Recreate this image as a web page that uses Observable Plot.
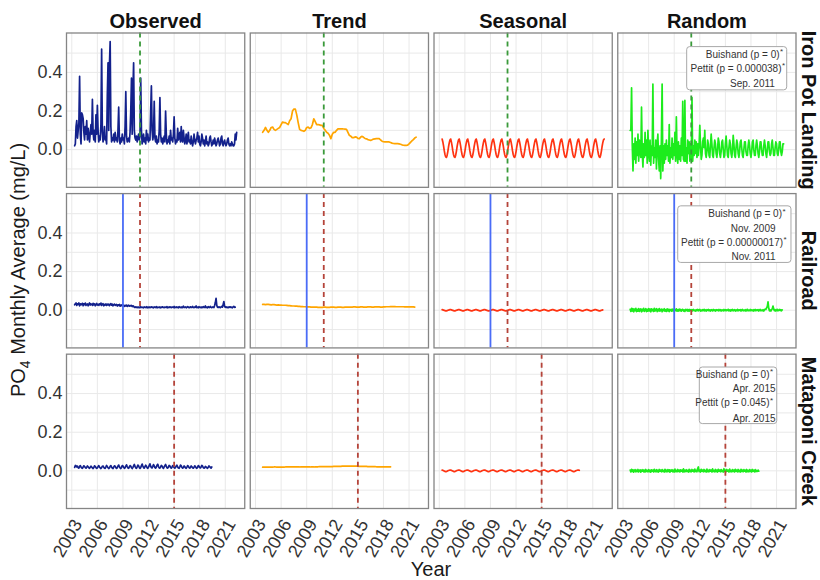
<!DOCTYPE html>
<html><head><meta charset="utf-8">
<script src="https://cdn.jsdelivr.net/npm/d3@7"></script>
<script src="https://cdn.jsdelivr.net/npm/@observablehq/plot@0.6"></script>
<style>body{margin:0;background:#fff}</style>
</head><body><div id="chart"></div>
<script>
const FONT = "'Liberation Sans', Arial, Helvetica, sans-serif";
const sites = ["Iron Pot Landing", "Railroad", "Mataponi Creek"];
const components = ["Observed", "Trend", "Seasonal", "Random"];
const xTicks = [2003, 2006, 2009, 2012, 2015, 2018, 2021];
const yTicks = [0, 0.2, 0.4];
const yGrid = [-0.1, 0, 0.1, 0.2, 0.3, 0.4, 0.5];
const firstMonth = 2003 + 4 / 12; // first monthly sample

// ---- Iron Pot Landing (monthly) ----
const ironObserved = [
.02,.03,.12,.15,.06,.10,.14,.38,.08,.03,.19,.18,
.16,.09,.05,.12,.08,.15,.05,.11,.07,.04,.09,.13,
.08,.26,.09,.05,.10,.04,.18,.08,.23,.10,.04,.07,
.05,.13,.52,.09,.04,.07,.12,.05,.06,.03,.28,.45,
.10,.44,.56,.12,.04,.06,.05,.08,.04,.09,.05,.06,
.04,.10,.22,.05,.03,.06,.04,.08,.05,.06,.03,.12,
.30,.07,.04,.05,.06,.04,.09,.20,.37,.08,.30,.45,
.10,.06,.05,.07,.04,.06,.08,.05,.07,.37,.10,.03,
.05,.08,.04,.06,.03,.10,.05,.08,.04,.06,.05,.20,
.33,.10,.05,.08,.25,.06,.04,.07,.03,.05,.04,.10,
.27,.08,.04,.06,.03,.05,.07,.04,.20,.08,.03,.05,
.04,.07,.03,.10,.05,.06,.04,.08,.17,.06,.03,.05,
.04,.11,.05,.06,.09,.04,.12,.05,.04,.10,.06,.03,
.05,.08,.03,.06,.09,.04,.05,.03,.07,.04,.02,.04,
.08,.05,.03,.05,.06,.09,.04,.07,.03,.02,.04,.08,
.06,.03,.05,.02,.04,.07,.03,.04,.02,.03,.06,.07,
.04,.02,.03,.05,.03,.06,.04,.02,.03,.05,.06,.04,
.02,.03,.06,.07,.03,.02,.04,.05,.03,.02,.03,.05,
.06,.03,.02,.03,.02,.04,.03,.02,.02,.03,.08,.05,
.09];
// every second month, starting at month 6
const ironTrend = [
.09,.10,.115,.10,.09,.10,.115,.117,.105,.10,.105,.11,
.115,.13,.143,.14,.14,.135,.13,.15,.16,.20,.21,.21,
.18,.14,.105,.10,.098,.095,.10,.115,.117,.11,.113,.13,
.16,.145,.13,.13,.128,.126,.126,.11,.10,.09,.085,.075,
.057,.08,.09,.09,.10,.108,.108,.108,.108,.107,.106,.105,
.09,.074,.07,.062,.062,.066,.065,.058,.057,.065,.069,.064,
.058,.056,.052,.05,.048,.051,.055,.056,.057,.057,.057,.05,
.044,.041,.04,.04,.04,.04,.037,.034,.032,.031,.031,.031,
.03,.028,.025,.023,.022,.022,.023,.03,.038,.045,.052,.06,
.065];
const ironSeasonal = [
.055,.04,.02,-.005,-.025,-.037,-.04,-.03,-.01,.015,.035,.05,
.055,.04,.02,-.005,-.025,-.037,-.04,-.03,-.01,.015,.035,.05,
.055,.04,.02,-.005,-.025,-.037,-.04,-.03,-.01,.015,.035,.05,
.055,.04,.02,-.005,-.025,-.037,-.04,-.03,-.01,.015,.035,.05,
.055,.04,.02,-.005,-.025,-.037,-.04,-.03,-.01,.015,.035,.05,
.055,.04,.02,-.005,-.025,-.037,-.04,-.03,-.01,.015,.035,.05,
.055,.04,.02,-.005,-.025,-.037,-.04,-.03,-.01,.015,.035,.05,
.055,.04,.02,-.005,-.025,-.037,-.04,-.03,-.01,.015,.035,.05,
.055,.04,.02,-.005,-.025,-.037,-.04,-.03,-.01,.015,.035,.05,
.055,.04,.02,-.005,-.025,-.037,-.04,-.03,-.01,.015,.035,.05,
.055,.04,.02,-.005,-.025,-.037,-.04,-.03,-.01,.015,.035,.05,
.055,.04,.02,-.005,-.025,-.037,-.04,-.03,-.01,.015,.035,.05,
.055,.04,.02,-.005,-.025,-.037,-.04,-.03,-.01,.015,.035,.05,
.055,.04,.02,-.005,-.025,-.037,-.04,-.03,-.01,.015,.035,.05,
.055,.04,.02,-.005,-.025,-.037,-.04,-.03,-.01,.015,.035,.05,
.055,.04,.02,-.005,-.025,-.037,-.04,-.03,-.01,.015,.035,.05,
.055,.04,.02,-.005,-.025,-.037,-.04,-.03,-.01,.015,.035,.05,
.055,.04,.02,-.005,-.025,-.037,-.04,-.03,-.01,.015,.035,.05,
.055,.04,.02,-.005,-.025,-.037,-.04,-.03,-.01,.015,.035,.05,
.055];
// monthly, starting at month 6
const ironRandom = [
.10,.10,.32,.02,-.11,.03,-.05,.06,-.07,.04,-.03,.08,
-.06,.05,.00,-.04,.22,-.02,-.09,.03,-.04,.09,-.03,.05,
-.07,.10,-.02,-.06,.05,-.08,.02,-.03,.34,-.07,.01,-.04,
.05,-.10,.03,.08,-.05,-.11,.02,-.15,.06,.34,-.11,.02,
-.07,.03,-.05,.05,-.03,.02,-.06,.13,-.07,.01,-.04,.06,
-.05,.03,-.03,.09,-.06,.17,-.02,-.07,.04,-.05,.02,-.06,
.06,-.03,.25,-.05,-.06,.255,-.06,.01,-.07,.05,-.02,.04,
-.06,.03,-.05,.27,-.06,.02,-.03,.05,-.02,.04,-.04,.03,
-.03,.02,.126,.02,-.05,-.03,.04,.06,.01,.10,-.02,-.04,
-.01,.05,.03,-.03,-.04,.02,.08,.03,-.03,-.04,.01,.05,
.03,-.02,-.04,.00,.06,.04,-.02,-.04,-.01,.04,.05,.00,
-.04,-.03,.03,.07,.02,-.03,-.04,.01,.05,.03,-.02,-.04,
.00,.074,.03,-.03,-.04,.01,.05,.03,-.02,-.04,-.01,.04,
.05,.01,-.03,-.04,.00,.04,.04,-.01,-.03,-.03,.02,.05,
.02,-.02,-.04,-.01,.04,.05,.00,-.03,-.03,.02,.05,.02,
-.02,-.04,-.01,.04,.04,.00,-.03,-.03,.02,.05,.02,-.02,
-.04,.00,.04,.04,-.01,-.03,-.02,.03,.05,.01,-.03,-.03,
.01,.04,.03,-.02,-.03,.00,.04,.04,-.01,-.03,-.01,.03,
.03];

// ---- Railroad ----
const railObserved = [
.028,.033,.038,.025,.033,.03,.038,.023,.033,.028,.031,.036,
.023,.033,.029,.037,.025,.031,.033,.023,.03,.038,.027,.033,
.031,.025,.036,.028,.033,.023,.03,.035,.027,.031,.025,.033,
.029,.037,.025,.031,.034,.023,.03,.027,.033,.025,.031,.028,
.032,.024,.03,.034,.026,.031,.023,.029,.032,.025,.028,.03,
.022,.028,.025,.03,.021,.027,.024,.029,.022,.026,.02,.025,
.023,.027,.02,.024,.026,.021,.024,.022,.025,.019,.023,.021,
.016,.014,.018,.015,.013,.017,.014,.016,.013,.018,.015,.014,
.016,.013,.017,.015,.014,.018,.013,.016,.014,.017,.013,.015,
.018,.014,.016,.013,.017,.015,.014,.019,.013,.016,.015,.014,
.017,.013,.016,.015,.018,.014,.013,.017,.015,.014,.019,.013,
.016,.014,.018,.015,.013,.017,.016,.014,.02,.013,.015,.017,
.014,.016,.013,.018,.015,.014,.017,.013,.016,.021,.014,.015,
.017,.013,.016,.019,.014,.015,.013,.018,.016,.014,.02,.015,
.013,.017,.015,.022,.014,.016,.013,.018,.015,.014,.017,.013,
.016,.019,.014,.015,.022,.014,.016,.013,.018,.015,.014,.02,
.015,.013,.017,.016,.014,.025,.04,.062,.025,.016,.014,.018,
.015,.013,.017,.02,.016,.03,.045,.02,.015,.018,.014,.016,
.013,.017,.015,.018,.014,.016,.013,.017,.02,.015,.016];
const railTrend = [
.03,.03,.029,.03,.03,.029,.028,.029,.029,.028,.027,.028,
.027,.027,.026,.026,.026,.025,.024,.024,.023,.022,.022,.021,
.021,.02,.02,.019,.019,.018,.018,.017,.017,.017,.016,.016,
.016,.016,.016,.015,.015,.015,.015,.016,.016,.015,.015,.015,
.016,.016,.016,.015,.015,.016,.016,.016,.015,.015,.016,.016,
.016,.016,.016,.016,.017,.017,.016,.016,.016,.017,.017,.016,
.016,.016,.017,.017,.017,.016,.016,.017,.017,.017,.017,.016,
.016,.017,.017,.018,.018,.018,.019,.019,.019,.019,.018,.018,
.018,.018,.018,.018,.017,.017,.017,.017,.017,.017,.017,.016];
const railSeasonal = [
.003,.002,.001,-.001,-.002,-.003,-.003,-.002,0,.001,.002,.003,
.003,.002,.001,-.001,-.002,-.003,-.003,-.002,0,.001,.002,.003,
.003,.002,.001,-.001,-.002,-.003,-.003,-.002,0,.001,.002,.003,
.003,.002,.001,-.001,-.002,-.003,-.003,-.002,0,.001,.002,.003,
.003,.002,.001,-.001,-.002,-.003,-.003,-.002,0,.001,.002,.003,
.003,.002,.001,-.001,-.002,-.003,-.003,-.002,0,.001,.002,.003,
.003,.002,.001,-.001,-.002,-.003,-.003,-.002,0,.001,.002,.003,
.003,.002,.001,-.001,-.002,-.003,-.003,-.002,0,.001,.002,.003,
.003,.002,.001,-.001,-.002,-.003,-.003,-.002,0,.001,.002,.003,
.003,.002,.001,-.001,-.002,-.003,-.003,-.002,0,.001,.002,.003,
.003,.002,.001,-.001,-.002,-.003,-.003,-.002,0,.001,.002,.003,
.003,.002,.001,-.001,-.002,-.003,-.003,-.002,0,.001,.002,.003,
.003,.002,.001,-.001,-.002,-.003,-.003,-.002,0,.001,.002,.003,
.003,.002,.001,-.001,-.002,-.003,-.003,-.002,0,.001,.002,.003,
.003,.002,.001,-.001,-.002,-.003,-.003,-.002,0,.001,.002,.003,
.003,.002,.001,-.001,-.002,-.003,-.003,-.002,0,.001,.002,.003,
.003,.002,.001,-.001,-.002,-.003,-.003,-.002,0,.001,.002,.003,
.003,.002,.001,-.001,-.002,-.003,-.003,-.002,0,.001,.002,.003,
.003,.002,.001,-.001,-.002,-.003,-.003,-.002,0,.001,.002];
const railRandom = [
.005,-.006,.01,-.004,.008,-.008,.006,-.002,.01,-.007,.004,-.005,
.009,-.006,.003,.007,-.008,.005,-.003,.01,-.006,.002,.008,-.007,
.004,-.005,.009,-.003,.006,-.008,.007,-.002,.005,-.006,.01,-.004,
.003,.008,-.007,.005,-.003,.009,-.005,.002,.006,-.008,.004,-.002,
.008,-.005,.003,-.006,.007,-.003,.005,-.007,.004,.002,-.005,.006,
-.003,.005,-.006,.004,-.002,.007,-.005,.003,-.004,.006,-.002,.004,
-.005,.003,.005,-.004,.002,-.006,.004,-.002,.005,-.004,.003,-.005,
.004,-.002,.003,-.005,.002,.004,-.003,.001,-.004,.003,-.002,.004,
-.003,.002,.004,-.004,.001,-.003,.003,-.002,.005,-.003,.002,-.004,
.003,-.001,.004,-.003,.002,-.004,.003,.001,-.003,.004,-.002,.002,
-.004,.003,-.001,.002,-.003,.004,-.002,.003,-.004,.002,.001,-.003,
.004,-.002,.003,-.003,.002,-.001,.005,-.003,.002,-.004,.003,-.002,
.004,-.003,.001,.003,-.004,.002,-.002,.005,-.003,.002,-.001,.003,
-.004,.002,.004,-.003,.001,-.002,.003,-.004,.002,.005,-.003,.001,
-.002,.004,-.003,.002,.001,-.004,.003,-.002,.004,-.003,.002,-.001,
.003,-.004,.002,.004,-.003,.001,-.002,.003,-.004,.002,.006,.004,
.012,.02,.043,.01,-.003,.002,-.004,.003,.008,.022,.006,-.002,
.003,-.004,.002,.005,-.003,.001,.004,-.002,.003,-.003,.002];

// ---- Mataponi Creek ----
const matObserved = [
.018,.028,.026,.02,.024,.016,.014,.022,.027,.02,.015,.013,
.02,.026,.022,.017,.014,.019,.025,.021,.016,.013,.018,.024,
.02,.015,.012,.017,.026,.023,.017,.013,.015,.022,.027,.02,
.015,.012,.016,.024,.025,.019,.014,.013,.02,.028,.022,.016,
.012,.015,.023,.027,.02,.014,.012,.019,.026,.024,.017,.013,
.016,.025,.03,.021,.015,.012,.018,.027,.025,.018,.013,.016,
.024,.031,.022,.015,.013,.02,.027,.024,.016,.012,.018,.026,
.033,.023,.016,.013,.021,.03,.026,.017,.013,.017,.027,.035,
.025,.016,.014,.022,.029,.024,.016,.013,.019,.028,.036,.024,
.016,.015,.023,.032,.025,.017,.014,.02,.03,.034,.022,.015,
.014,.021,.028,.024,.017,.013,.02,.027,.033,.023,.016,.014,
.02,.028,.025,.018,.014,.019,.027,.023,.017,.014,.018,.026,
.029,.02,.015,.013,.021,.03,.026,.018,.014,.017,.025,.022,
.016,.013,.019,.027,.024,.017,.014,.018,.025,.021,.016,.014,
.019,.026,.022,.016,.013,.018,.027,.024,.017,.015,.02,.028,
.024,.017,.014,.016,.023,.02,.016,.013,.018,.025,.022,.017,
.014,.02];
const matTrend = [
.019,.019,.019,.019,.019,.019,.019,.019,.02,.02,.019,.019,
.019,.019,.019,.019,.02,.02,.02,.02,.02,.02,.02,.02,
.02,.02,.02,.021,.021,.021,.021,.021,.021,.021,.02,.02,
.02,.021,.021,.021,.022,.022,.022,.022,.022,.022,.022,.022,
.022,.022,.023,.023,.023,.023,.023,.023,.024,.024,.024,.024,
.024,.024,.024,.024,.024,.024,.024,.024,.023,.023,.023,.023,
.023,.023,.022,.022,.022,.022,.022,.022,.021,.021,.021,.021,
.021,.021,.021,.021,.021,.021,.021];
const matSeasonal = [
.004,.003,.001,-.001,-.003,-.004,-.004,-.002,0,.002,.003,.004,
.004,.003,.001,-.001,-.003,-.004,-.004,-.002,0,.002,.003,.004,
.004,.003,.001,-.001,-.003,-.004,-.004,-.002,0,.002,.003,.004,
.004,.003,.001,-.001,-.003,-.004,-.004,-.002,0,.002,.003,.004,
.004,.003,.001,-.001,-.003,-.004,-.004,-.002,0,.002,.003,.004,
.004,.003,.001,-.001,-.003,-.004,-.004,-.002,0,.002,.003,.004,
.004,.003,.001,-.001,-.003,-.004,-.004,-.002,0,.002,.003,.004,
.004,.003,.001,-.001,-.003,-.004,-.004,-.002,0,.002,.003,.004,
.004,.003,.001,-.001,-.003,-.004,-.004,-.002,0,.002,.003,.004,
.004,.003,.001,-.001,-.003,-.004,-.004,-.002,0,.002,.003,.004,
.004,.003,.001,-.001,-.003,-.004,-.004,-.002,0,.002,.003,.004,
.004,.003,.001,-.001,-.003,-.004,-.004,-.002,0,.002,.003,.004,
.004,.003,.001,-.001,-.003,-.004,-.004,-.002,0,.002,.003,.004,
.004,.003,.001,-.001,-.003,-.004,-.004,-.002,0,.002,.003,.004,
.004,.003,.001,-.001,-.003,-.004,-.004,-.002,0,.002,.003,.004,
.004,.003,.001,-.001,-.003,-.004,-.004,-.002,0,.002,.003,.004,
.004,.003];
const matRandom = [
.004,-.006,.008,-.003,.005,-.007,.002,.006,-.005,.003,-.004,.007,
-.006,.002,.005,-.007,.004,-.002,.006,-.005,.003,-.006,.007,-.003,
.002,-.005,.006,-.004,.003,-.007,.005,-.002,.004,-.006,.008,-.003,
-.004,.006,-.005,.003,-.006,.007,-.002,.004,-.005,.006,-.003,.002,
-.006,.008,-.004,.003,-.005,.006,-.003,.005,-.007,.004,-.002,.006,
-.005,.003,-.006,.009,-.004,.002,-.005,.007,-.003,.004,-.006,.005,
-.002,.004,-.006,.01,-.005,.003,-.004,.006,-.003,.002,-.006,.008,
-.004,.003,-.005,.007,-.002,.004,-.006,.009,-.003,.002,-.005,.012,
.02,-.004,.003,-.006,.008,-.002,.004,-.005,.007,-.003,.002,-.006,
.009,-.004,.003,-.005,.006,-.002,.004,-.006,.01,-.003,.002,-.005,
.007,-.004,.003,-.006,.008,-.002,.004,-.005,.006,-.003,.002,-.006,
.011,-.003,.004,-.005,.007,-.002,.003,-.006,.009,-.004,.002,-.005,
.006,-.003,.004,-.006,.008,-.002,.003,-.005,.007,-.004,.002,-.006,
.008,-.003,.004,-.005,.006,-.002,.003,-.006,.007,-.004,.002,-.005,
.006,-.003,.004,-.006,.007,-.002,.003,-.005,.006,-.004,.002,-.003,
.004,-.002];

// change points (decimal year) per site
const changeSites = ["Iron Pot Landing", "Railroad", "Railroad", "Mataponi Creek"];
const changeYears = [2011, 2009, 2011, 2015];
const changeTests = ["agree", "Buishand", "Pettit", "Pettit"];

// test result text per site
const legendSites = ["Iron Pot Landing","Iron Pot Landing","Iron Pot Landing",
  "Railroad","Railroad","Railroad","Railroad",
  "Mataponi Creek","Mataponi Creek","Mataponi Creek","Mataponi Creek"];
const legendLabels = ["Buishand (p = 0)","Pettit (p = 0.000038)","Sep. 2011",
  "Buishand (p = 0)","Nov. 2009","Pettit (p = 0.00000017)","Nov. 2011",
  "Buishand (p = 0)","Apr. 2015","Pettit (p = 0.045)","Apr. 2015"];
const legendStars = [true,true,false, true,false,true,false, true,false,true,false];

// ---------- assembly ----------
const seriesTable = [
  ["Iron Pot Landing","Observed",0,1,ironObserved],
  ["Iron Pot Landing","Trend",6,2,ironTrend],
  ["Iron Pot Landing","Seasonal",0,1,ironSeasonal],
  ["Iron Pot Landing","Random",6,1,ironRandom],
  ["Railroad","Observed",0,1,railObserved],
  ["Railroad","Trend",6,2,railTrend],
  ["Railroad","Seasonal",0,1,railSeasonal],
  ["Railroad","Random",6,1,railRandom],
  ["Mataponi Creek","Observed",0,1,matObserved],
  ["Mataponi Creek","Trend",6,2,matTrend],
  ["Mataponi Creek","Seasonal",0,1,matSeasonal],
  ["Mataponi Creek","Random",6,1,matRandom]
];
const rows = seriesTable.flatMap(([site, comp, start, step, vals]) =>
  vals.map((v, k) => ({site, comp, year: firstMonth + (start + k * step) / 12, value: v})));
const changes = changeYears.map((year, i) => ({site: changeSites[i], year, test: changeTests[i]}));

// annotation layout (legend box placement, in scale units)
const legendLayout = {
  "Iron Pot Landing": {box: [2010.52, 2022.25, 0.307, 0.531], right: [2021.35, 2021.58, 2020.80], y: [0.493, 0.419, 0.341]},
  "Railroad": {box: [2009.47, 2022.75, 0.245, 0.538], right: [2021.64, 2020.88, 2021.76, 2020.88], y: [0.497, 0.423, 0.349, 0.276]},
  "Mataponi Creek": {box: [2012.0, 2021.08, 0.242, 0.535], right: [2020.17, 2020.88, 2020.17, 2020.88], y: [0.497, 0.423, 0.351, 0.271]}
};
const legendBoxes = sites.map(site => ({site, b: legendLayout[site].box}));
const counters = {};
const legendLines = legendLabels.map((label, i) => {
  const site = legendSites[i];
  const j = counters[site] = (counters[site] ?? -1) + 1;
  return {site, label, star: legendStars[i], x: legendLayout[site].right[j], y: legendLayout[site].y[j]};
});

const lineColors = ["#13218c", "#ffa500", "#ff3311", "#1cec1c"];
const onRandom = () => "Random";

const chart = Plot.plot({
  width: 820, height: 580,
  marginTop: 32.5, marginRight: 24.5, marginBottom: 72, marginLeft: 66,
  style: {fontFamily: FONT, background: "#ffffff", color: "#333"},
  x: {domain: [2002.38, 2023.28]},
  y: {domain: [-0.195, 0.604]},
  fx: {domain: components, paddingInner: 0.03, paddingOuter: 0, round: false},
  fy: {domain: sites, paddingInner: 0.039, paddingOuter: 0, round: false},
  color: {domain: components, range: lineColors},
  marks: [
    Plot.gridY({ticks: yGrid, stroke: "#e9e9e9", strokeOpacity: 1, strokeWidth: 1}),
    Plot.gridX({ticks: xTicks, stroke: "#e9e9e9", strokeOpacity: 1, strokeWidth: 1}),
    Plot.line(rows, {x: "year", y: "value", fx: "comp", fy: "site", stroke: "comp", strokeWidth: 1.7}),
    Plot.ruleX(changes.filter(d => d.test === "agree"), {x: "year", fy: "site", stroke: "#3a9a3a", strokeWidth: 1.8, strokeDasharray: "5,4"}),
    Plot.ruleX(changes.filter(d => d.test === "Buishand"), {x: "year", fy: "site", stroke: "#4a6cf7", strokeWidth: 1.8}),
    Plot.ruleX(changes.filter(d => d.test === "Pettit"), {x: "year", fy: "site", stroke: "#b5443a", strokeWidth: 1.8, strokeDasharray: "5,4"}),
    Plot.frame({stroke: "#858585", strokeWidth: 1.3}),
    Plot.rect(legendBoxes, {x1: d => d.b[0], x2: d => d.b[1], y1: d => d.b[2], y2: d => d.b[3], fx: onRandom, fy: "site", fill: "#fff", stroke: "#a8a8a8", strokeWidth: 1, rx: 3}),
    Plot.text(legendLines, {x: "x", y: "y", text: "label", fx: onRandom, fy: "site", textAnchor: "end", fontSize: 10, fill: "#333"}),
    Plot.text(legendLines.filter(d => d.star), {x: "x", y: "y", text: () => "*", fx: onRandom, fy: "site", textAnchor: "start", dx: 0.5, dy: -3, fontSize: 8, fill: "#333"}),
    Plot.axisX({ticks: xTicks, tickFormat: d => String(d), tickSize: 0, tickPadding: 9, tickRotate: -60, textAnchor: "end", lineAnchor: "top", fontSize: 18, fill: "#333", label: null}),
    Plot.axisY({ticks: yTicks, tickFormat: d => d.toFixed(1), tickSize: 0, tickPadding: 4, fontSize: 18, fill: "#333", label: null}),
    Plot.axisFx({anchor: "top", tickSize: 0, tickPadding: 5, fontSize: 20, fontWeight: "bold", fill: "#111", label: null}),
    Plot.axisFy({anchor: "right", tickSize: 0, tickPadding: 12.5, tickRotate: 90, textAnchor: "middle", lineAnchor: "middle", fontSize: 20, fontWeight: "bold", fill: "#111", label: null})
  ]
});

const svg = d3.select(chart);
svg.append("text").attr("x", 431).attr("y", 576).attr("text-anchor", "middle")
  .attr("font-size", 20).attr("font-family", FONT).attr("fill", "#1a1a1a").text("Year");
const yt = svg.append("text").attr("transform", "translate(25,270) rotate(-90)")
  .attr("text-anchor", "middle").attr("font-size", 20).attr("font-family", FONT).attr("fill", "#1a1a1a");
yt.append("tspan").text("PO");
yt.append("tspan").attr("font-size", 14).attr("dy", 5).text("4");
yt.append("tspan").attr("dy", -5).text(" Monthly Average (mg/L)");

document.getElementById("chart").appendChild(chart);
</script></body></html>
